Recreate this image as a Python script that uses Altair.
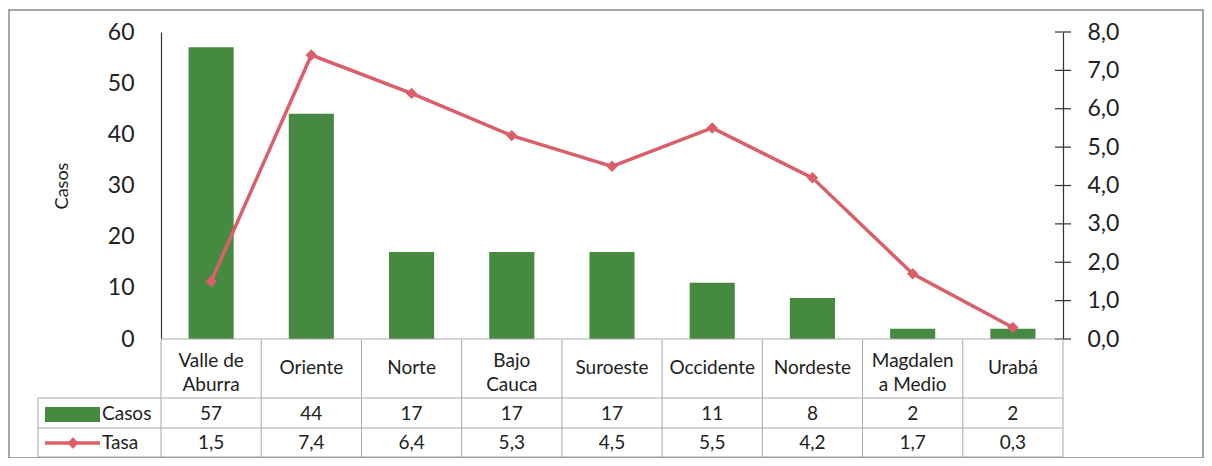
import altair as alt
import pandas as pd

categorias = ["Valle de Aburra", "Oriente", "Norte", "Bajo Cauca", "Suroeste",
              "Occidente", "Nordeste", "Magdalena Medio", "Urabá"]
etiquetas = ["Valle de\nAburra", "Oriente", "Norte", "Bajo\nCauca", "Suroeste",
             "Occidente", "Nordeste", "Magdalen\na Medio", "Urabá"]
casos = [57, 44, 17, 17, 17, 11, 8, 2, 2]
tasa = [1.5, 7.4, 6.4, 5.3, 4.5, 5.5, 4.2, 1.7, 0.3]
casos_ticks = [0, 10, 20, 30, 40, 50, 60]
tasa_ticks = [0, 1, 2, 3, 4, 5, 6, 7, 8]

df = pd.DataFrame({
    "cat": categorias,
    "etiqueta": etiquetas,
    "casos": casos,
    "tasa": tasa,
    "tasa_lbl": [f"{v:.1f}".replace(".", ",") for v in tasa],
    "casos_lbl": [str(v) for v in casos],
})
ticks_df = pd.DataFrame({"tasa": tasa_ticks})
one = pd.DataFrame({"a": [0]})

W, H = 902, 307
GREEN = "#468a41"
RED = "#db5f6a"
TXT = "#222222"
GRID = "#a8a8a8"
FONT = "Lato"

x = alt.X("cat:N", sort=categorias,
          scale=alt.Scale(domain=categorias, paddingInner=0, paddingOuter=0),
          axis=None)

y_casos = alt.Y("casos:Q", scale=alt.Scale(domain=[0, 60], nice=False),
                axis=alt.Axis(values=casos_ticks, title="Casos", ticks=False, grid=False,
                              domainColor="#333333", domainWidth=1.2,
                              labelFontSize=23, labelFont=FONT, labelColor=TXT,
                              labelPadding=27, titleFont=FONT, titleFontSize=18,
                              titleFontWeight="normal", titleColor=TXT,
                              titleX=-99, titleY=H / 2, titleAngle=-90,
                              titleAlign="center", titleBaseline="middle"))

y_tasa = alt.Y("tasa:Q", scale=alt.Scale(domain=[0, 8], nice=False),
               axis=alt.Axis(orient="right", values=tasa_ticks, title=None, ticks=False,
                             grid=False, domainColor="#333333", domainWidth=1.2,
                             labelFontSize=23, labelFont=FONT, labelColor=TXT,
                             labelPadding=24,
                             labelExpr="replace(format(datum.value, '.1f'), '.', ',')"))

base = alt.Chart(df)

bars = base.mark_bar(color=GREEN, width=alt.RelativeBandSize(0.45)).encode(x=x, y=y_casos)

line = base.mark_line(color=RED, strokeWidth=3.5).encode(x=x, y=y_tasa)
points = base.mark_point(shape="diamond", filled=True, size=130, color=RED,
                         opacity=1).encode(x=x, y=y_tasa)
rticks = alt.Chart(ticks_df).mark_rule(color="#333333", strokeWidth=1.2).encode(
    x=alt.value(W - 8), x2=alt.value(W + 8), y=y_tasa)
tasa_layer = alt.layer(line, points, rticks)

oc = alt.Chart(one)

# table grid
grid_layers = [
    oc.mark_rule(color=GRID, strokeWidth=1).encode(x=alt.value(0), x2=alt.value(W), y=alt.value(H)),
    oc.mark_rule(color=GRID, strokeWidth=1).encode(x=alt.value(-123), x2=alt.value(W), y=alt.value(H + 59)),
    oc.mark_rule(color=GRID, strokeWidth=1).encode(x=alt.value(-123), x2=alt.value(W), y=alt.value(H + 89)),
    oc.mark_rule(color=GRID, strokeWidth=1).encode(x=alt.value(-123), x2=alt.value(W), y=alt.value(H + 118)),
    base.mark_rule(color=GRID, strokeWidth=1).encode(
        x=alt.X("cat:N", sort=categorias, bandPosition=0,
                scale=alt.Scale(domain=categorias, paddingInner=0, paddingOuter=0), axis=None),
        y=alt.value(H + 1), y2=alt.value(H + 118)),
    oc.mark_rule(color=GRID, strokeWidth=1).encode(x=alt.value(W), y=alt.value(H), y2=alt.value(H + 118)),
    oc.mark_rule(color=GRID, strokeWidth=1).encode(x=alt.value(-123), y=alt.value(H + 59), y2=alt.value(H + 118)),
]

labels_1 = base.mark_text(font=FONT, fontSize=19, color=TXT, baseline="middle",
                          align="center").encode(
    x=x, y=alt.value(H + 29), text="etiqueta:N"
).transform_filter("indexof(datum.etiqueta, '\\n') < 0")
labels_2 = base.mark_text(font=FONT, fontSize=19, color=TXT, lineBreak="\n", lineHeight=24,
                          baseline="middle", align="center").encode(
    x=x, y=alt.value(H + 22), text="etiqueta:N"
).transform_filter("indexof(datum.etiqueta, '\\n') >= 0")
casos_txt = base.mark_text(font=FONT, fontSize=19, color=TXT, baseline="middle").encode(
    x=x, y=alt.value(H + 75), text="casos_lbl:N")
tasa_txt = base.mark_text(font=FONT, fontSize=19, color=TXT, baseline="middle").encode(
    x=x, y=alt.value(H + 104), text="tasa_lbl:N")

# legend keys in the table
leg_layers = [
    oc.mark_rect(color=GREEN).encode(x=alt.value(-116), x2=alt.value(-61),
                                     y=alt.value(H + 68), y2=alt.value(H + 83)),
    oc.mark_text(font=FONT, fontSize=19, color=TXT, align="left", baseline="middle",
                 text="Casos").encode(x=alt.value(-59), y=alt.value(H + 75)),
    oc.mark_rule(color=RED, strokeWidth=3.5).encode(x=alt.value(-116), x2=alt.value(-61),
                                                    y=alt.value(H + 104)),
    oc.mark_point(shape="diamond", filled=True, size=130, color=RED, opacity=1).encode(
        x=alt.value(-88), y=alt.value(H + 104)),
    oc.mark_text(font=FONT, fontSize=19, color=TXT, align="left", baseline="middle",
                 text="Tasa").encode(x=alt.value(-59), y=alt.value(H + 104)),
]

border = oc.mark_rect(fillOpacity=0, stroke="#8a8a8a", strokeWidth=1.5).encode(
    x=alt.value(-152), x2=alt.value(1042), y=alt.value(-22), y2=alt.value(H + 119))

chart = alt.layer(
    bars, tasa_layer, *grid_layers, labels_1, labels_2, casos_txt, tasa_txt,
    *leg_layers, border
).resolve_scale(y="independent").properties(
    width=W, height=H,
    autosize=alt.AutoSizeParams(type="none"),
    padding={"left": 153, "top": 24, "right": 141, "bottom": 119},
    background="white",
).configure_view(stroke=None)

chart.save("out.html", embed_options={"renderer": "svg", "actions": False})
